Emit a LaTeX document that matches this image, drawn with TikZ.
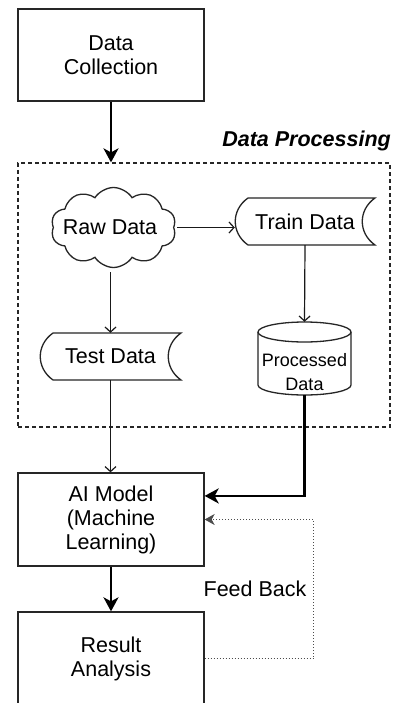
\documentclass[tikz,border=0pt]{standalone}
\usepackage{fontspec}
\setmainfont{Liberation Sans}
\usetikzlibrary{arrows.meta,shapes.symbols,calc}
\begin{document}
\begin{tikzpicture}[x=1pt,y=-1pt,
  txt/.style={font=\fontsize{21.5}{24}\selectfont, align=center, inner sep=0pt},
  box/.style={txt, draw=black!85, line width=1.3pt, minimum width=186pt, minimum height=92pt},
  thinarrow/.style={draw=black!90, line width=1.2pt, -{Straight Barb[length=5pt,width=11pt,line width=1.2pt]}},
  thickarrow/.style={draw=black, line width=2.6pt, -{Stealth[length=14pt,width=15pt,inset=4pt]}},
  fbarrow/.style={draw=black!70, line width=1pt, dotted, -{Stealth[length=10pt,width=11pt,inset=3pt]}},
  shapeline/.style={draw=black!85, line width=1.3pt}
]
\path[use as bounding box] (0,0) rectangle (395,703);
\clip (0,0) rectangle (395,703);
\fill[white] (0,0) rectangle (395,703);

% Data Collection
\node[box] (dc) at (111,55) {Data\\Collection};

% Data processing group
\node[draw=black!85, line width=1.2pt, dash pattern=on 4pt off 3pt, minimum width=372pt, minimum height=264pt, inner sep=0pt] (dp) at (204,295) {};
\node[anchor=east, inner sep=0pt, font=\fontsize{21.5}{24}\selectfont\bfseries\itshape] (dplabel) at (391,141) {Data Processing};

% Raw data cloud
\node[cloud, draw=black!85, line width=1.3pt, cloud puffs=10, cloud puff arc=115, aspect=1.6, minimum width=125pt, minimum height=80pt, inner sep=0pt] (raw) at (113.5,227.5) {};
\node[txt] (rawtxt) at (110,227) {Raw Data};

% Train data (stored data shape)
\path[shapeline] (248,198) -- (375,198) .. controls (358,210) and (358,233) .. (375,245) -- (248,245) .. controls (231,233) and (231,210) .. (248,198) -- cycle;
\node[txt, minimum width=140pt, minimum height=47pt] (train) at (305,221.5) {Train Data};

% Test data (stored data shape)
\path[shapeline] (53,333) -- (181,333) .. controls (164,345) and (164,368) .. (181,380) -- (53,380) .. controls (36,368) and (36,345) .. (53,333) -- cycle;
\node[txt, minimum width=141pt, minimum height=47pt] (test) at (110.5,356.5) {Test Data};

% Processed data cylinder
\path[shapeline, fill=white] (258,332) -- (258,385) arc[start angle=180, end angle=360, x radius=46.5pt, y radius=10pt] -- (351,332);
\draw[shapeline] (304.5,332) ellipse [x radius=46.5pt, y radius=10pt];
\node[inner sep=0pt, minimum width=93pt, minimum height=73pt] (proc) at (304.5,358.5) {};
\node[txt, font=\fontsize{18}{24}\selectfont] (proctxt) at (304.5,372) {Processed\\Data};

% AI model and result
\node[box, minimum height=93pt] (ai) at (111,519.5) {AI Model\\(Machine\\Learning)};
\node[box, minimum height=93pt] (res) at (111,658.5) {Result\\Analysis};

% Connectors
\draw[thickarrow] (dc.south) -- (dc.south |- dp.north);
\draw[thinarrow, shorten <=3pt] (raw.east) -- (raw.east -| train.west);
\draw[thinarrow, shorten <=4pt] (raw.south -| test.north) -- (test.north);
\draw[thinarrow] (train.south) -- (proc.north);
\draw[thinarrow] (test.south) -- (test.south |- ai.north);
\draw[line width=2.6pt, -{Stealth[length=14pt,width=15pt,inset=4pt]}] (proc.south) |- ($(ai.north east)!0.25!(ai.south east)$);
\draw[thickarrow] (ai.south) -- (res.north);
\draw[fbarrow] (res.east) -- ++(109,0) |- (ai.east);
\node[txt] (fb) at (255,589) {Feed Back};
\end{tikzpicture}
\end{document}
